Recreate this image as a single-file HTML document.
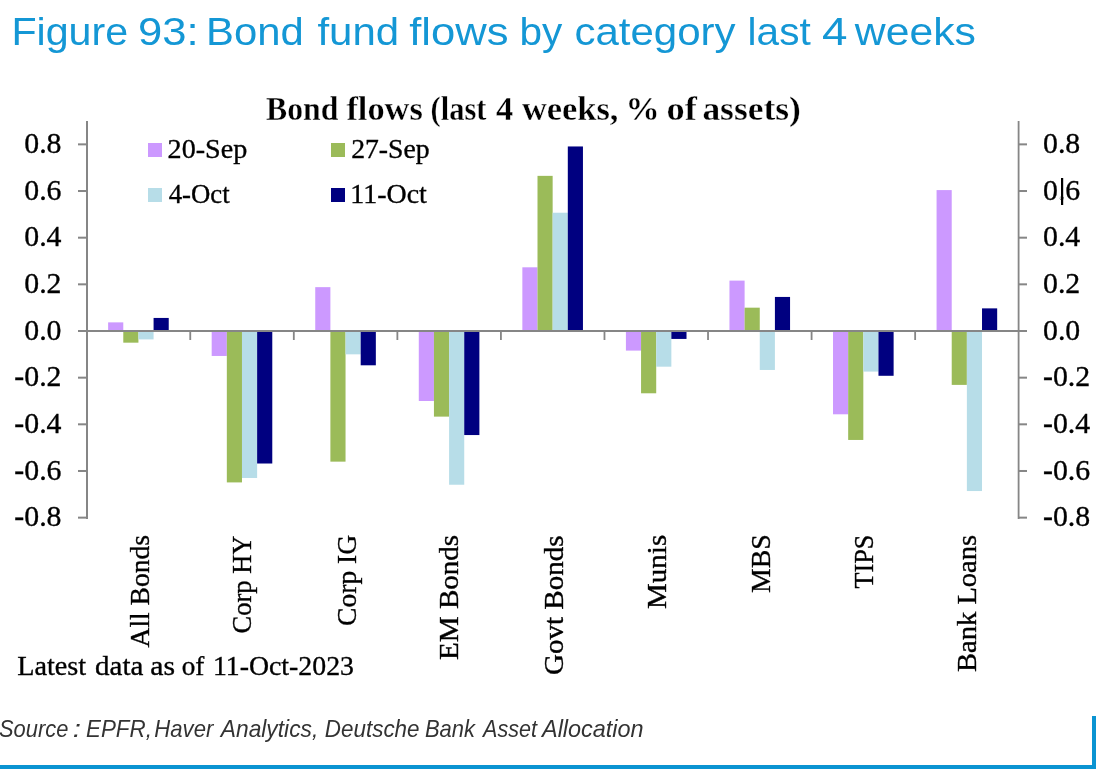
<!DOCTYPE html>
<html><head><meta charset="utf-8"><style>
html,body{margin:0;padding:0;background:#fff;}
body{width:1108px;height:770px;overflow:hidden;position:relative;}
svg{position:absolute;left:0;top:0;will-change:transform;}
text{font-family:"Liberation Serif",serif;fill:#000;}
.ax{font-size:29.8px;stroke:#000;stroke-width:0.35px;}
.leg{font-size:27px;stroke:#000;stroke-width:0.35px;}
.cat{font-size:28px;stroke:#000;stroke-width:0.35px;}
.fig{font-family:"Liberation Sans",sans-serif;font-size:39.5px;fill:#1497d5;stroke:#fff;stroke-width:0px;}
.ct{font-weight:bold;font-size:33px;stroke:#fff;stroke-width:0.3px;}
.note{font-size:28px;stroke:#000;stroke-width:0.35px;}
.src{font-family:"Liberation Sans",sans-serif;font-style:italic;font-size:24px;fill:#333;}
</style></head><body>
<svg width="1108" height="770" viewBox="0 0 1108 770">
<rect x="108.13" y="322.37" width="15.15" height="8.63" fill="#cc99ff"/>
<rect x="123.28" y="331.00" width="15.15" height="11.67" fill="#9bbb59"/>
<rect x="138.43" y="331.00" width="15.15" height="8.40" fill="#b7dde8"/>
<rect x="153.58" y="317.94" width="15.15" height="13.06" fill="#000080"/>
<rect x="211.68" y="331.00" width="15.15" height="24.96" fill="#cc99ff"/>
<rect x="226.83" y="331.00" width="15.15" height="151.41" fill="#9bbb59"/>
<rect x="241.98" y="331.00" width="15.15" height="146.98" fill="#b7dde8"/>
<rect x="257.13" y="331.00" width="15.15" height="132.51" fill="#000080"/>
<rect x="315.24" y="287.14" width="15.15" height="43.86" fill="#cc99ff"/>
<rect x="330.39" y="331.00" width="15.15" height="130.65" fill="#9bbb59"/>
<rect x="345.54" y="331.00" width="15.15" height="23.33" fill="#b7dde8"/>
<rect x="360.69" y="331.00" width="15.15" height="34.30" fill="#000080"/>
<rect x="418.79" y="331.00" width="15.15" height="69.99" fill="#cc99ff"/>
<rect x="433.94" y="331.00" width="15.15" height="85.62" fill="#9bbb59"/>
<rect x="449.09" y="331.00" width="15.15" height="153.74" fill="#b7dde8"/>
<rect x="464.24" y="331.00" width="15.15" height="104.05" fill="#000080"/>
<rect x="522.35" y="267.31" width="15.15" height="63.69" fill="#cc99ff"/>
<rect x="537.50" y="175.86" width="15.15" height="155.14" fill="#9bbb59"/>
<rect x="552.65" y="212.72" width="15.15" height="118.28" fill="#b7dde8"/>
<rect x="567.80" y="146.46" width="15.15" height="184.54" fill="#000080"/>
<rect x="625.91" y="331.00" width="15.15" height="19.60" fill="#cc99ff"/>
<rect x="641.06" y="331.00" width="15.15" height="62.29" fill="#9bbb59"/>
<rect x="656.21" y="331.00" width="15.15" height="35.69" fill="#b7dde8"/>
<rect x="671.36" y="331.00" width="15.15" height="7.93" fill="#000080"/>
<rect x="729.46" y="280.61" width="15.15" height="50.39" fill="#cc99ff"/>
<rect x="744.61" y="307.67" width="15.15" height="23.33" fill="#9bbb59"/>
<rect x="759.76" y="331.00" width="15.15" height="38.96" fill="#b7dde8"/>
<rect x="774.91" y="296.94" width="15.15" height="34.06" fill="#000080"/>
<rect x="833.02" y="331.00" width="15.15" height="83.29" fill="#cc99ff"/>
<rect x="848.17" y="331.00" width="15.15" height="108.95" fill="#9bbb59"/>
<rect x="863.32" y="331.00" width="15.15" height="40.59" fill="#b7dde8"/>
<rect x="878.47" y="331.00" width="15.15" height="44.79" fill="#000080"/>
<rect x="936.57" y="190.09" width="15.15" height="140.91" fill="#cc99ff"/>
<rect x="951.72" y="331.00" width="15.15" height="53.89" fill="#9bbb59"/>
<rect x="966.87" y="331.00" width="15.15" height="160.04" fill="#b7dde8"/>
<rect x="982.02" y="308.37" width="15.15" height="22.63" fill="#000080"/>
<rect x="86" y="121" width="2" height="398" fill="#868686"/>
<rect x="1017.7" y="121" width="1.8" height="398" fill="#868686"/>
<rect x="78" y="143.36" width="9" height="2" fill="#868686"/>
<rect x="1019" y="143.36" width="8" height="2" fill="#868686"/>
<text class="ax" x="61.5" y="152.96" text-anchor="end">0.8</text>
<text class="ax" x="1043" y="152.96">0.8</text>
<rect x="78" y="190.02" width="9" height="2" fill="#868686"/>
<rect x="1019" y="190.02" width="8" height="2" fill="#868686"/>
<text class="ax" x="61.5" y="199.62" text-anchor="end">0.6</text>
<text class="ax" x="1043" y="199.62">0<tspan fill="#fff">.</tspan>6</text>
<rect x="1061" y="178" width="2.2" height="27" fill="#000"/>
<rect x="78" y="236.68" width="9" height="2" fill="#868686"/>
<rect x="1019" y="236.68" width="8" height="2" fill="#868686"/>
<text class="ax" x="61.5" y="246.28" text-anchor="end">0.4</text>
<text class="ax" x="1043" y="246.28">0.4</text>
<rect x="78" y="283.34" width="9" height="2" fill="#868686"/>
<rect x="1019" y="283.34" width="8" height="2" fill="#868686"/>
<text class="ax" x="61.5" y="292.94" text-anchor="end">0.2</text>
<text class="ax" x="1043" y="292.94">0.2</text>
<rect x="78" y="330.00" width="9" height="2" fill="#868686"/>
<rect x="1019" y="330.00" width="8" height="2" fill="#868686"/>
<text class="ax" x="61.5" y="339.60" text-anchor="end">0.0</text>
<text class="ax" x="1043" y="339.60">0.0</text>
<rect x="78" y="376.66" width="9" height="2" fill="#868686"/>
<rect x="1019" y="376.66" width="8" height="2" fill="#868686"/>
<text class="ax" x="61.5" y="386.26" text-anchor="end">-0.2</text>
<text class="ax" x="1043" y="386.26">-0.2</text>
<rect x="78" y="423.32" width="9" height="2" fill="#868686"/>
<rect x="1019" y="423.32" width="8" height="2" fill="#868686"/>
<text class="ax" x="61.5" y="432.92" text-anchor="end">-0.4</text>
<text class="ax" x="1043" y="432.92">-0.4</text>
<rect x="78" y="469.98" width="9" height="2" fill="#868686"/>
<rect x="1019" y="469.98" width="8" height="2" fill="#868686"/>
<text class="ax" x="61.5" y="479.58" text-anchor="end">-0.6</text>
<text class="ax" x="1043" y="479.58">-0.6</text>
<rect x="78" y="516.64" width="9" height="2" fill="#868686"/>
<rect x="1019" y="516.64" width="8" height="2" fill="#868686"/>
<text class="ax" x="61.5" y="526.24" text-anchor="end">-0.8</text>
<text class="ax" x="1043" y="526.24">-0.8</text>
<rect x="78" y="330" width="949" height="2" fill="#868686"/>
<rect x="189.36" y="331" width="1.8" height="9" fill="#868686"/>
<rect x="292.91" y="331" width="1.8" height="9" fill="#868686"/>
<rect x="396.47" y="331" width="1.8" height="9" fill="#868686"/>
<rect x="500.02" y="331" width="1.8" height="9" fill="#868686"/>
<rect x="603.58" y="331" width="1.8" height="9" fill="#868686"/>
<rect x="707.13" y="331" width="1.8" height="9" fill="#868686"/>
<rect x="810.69" y="331" width="1.8" height="9" fill="#868686"/>
<rect x="914.24" y="331" width="1.8" height="9" fill="#868686"/>
<rect x="148" y="143" width="14" height="14" fill="#cc99ff"/>
<rect x="331" y="143" width="14" height="14" fill="#9bbb59"/>
<rect x="148" y="188" width="14" height="14" fill="#b7dde8"/>
<rect x="331" y="188" width="14" height="14" fill="#000080"/>
<text id="fig0" class="fig" x="11.40" y="44.60" textLength="116.74" lengthAdjust="spacingAndGlyphs">Figure</text>
<text id="fig1" class="fig" x="138.00" y="44.60" textLength="60.59" lengthAdjust="spacingAndGlyphs">93:</text>
<text id="fig2" class="fig" x="206.00" y="44.60" textLength="97.68" lengthAdjust="spacingAndGlyphs">Bond</text>
<text id="fig3" class="fig" x="317.40" y="44.60" textLength="81.68" lengthAdjust="spacingAndGlyphs">fund</text>
<text id="fig4" class="fig" x="409.20" y="44.60" textLength="99.33" lengthAdjust="spacingAndGlyphs">flows</text>
<text id="fig5" class="fig" x="519.40" y="44.60" textLength="42.87" lengthAdjust="spacingAndGlyphs">by</text>
<text id="fig6" class="fig" x="574.40" y="44.60" textLength="161.25" lengthAdjust="spacingAndGlyphs">category</text>
<text id="fig7" class="fig" x="747.60" y="44.60" textLength="63.11" lengthAdjust="spacingAndGlyphs">last</text>
<text id="fig8" class="fig" x="822.00" y="44.60" textLength="25.46" lengthAdjust="spacingAndGlyphs">4</text>
<text id="fig9" class="fig" x="854.80" y="44.60" textLength="121.12" lengthAdjust="spacingAndGlyphs">weeks</text>
<text id="ct0" class="ct" x="266.10" y="120.20" textLength="72.21" lengthAdjust="spacingAndGlyphs">Bond</text>
<text id="ct1" class="ct" x="346.40" y="120.20" textLength="76.42" lengthAdjust="spacingAndGlyphs">flows</text>
<text id="ct2" class="ct" x="430.60" y="120.20" textLength="55.78" lengthAdjust="spacingAndGlyphs">(last</text>
<text id="ct3" class="ct" x="496.10" y="120.20" textLength="17.15" lengthAdjust="spacingAndGlyphs">4</text>
<text id="ct4" class="ct" x="522.00" y="120.20" textLength="96.46" lengthAdjust="spacingAndGlyphs">weeks,</text>
<text id="ct5" class="ct" x="625.40" y="120.20" textLength="34.14" lengthAdjust="spacingAndGlyphs">%</text>
<text id="ct6" class="ct" x="666.60" y="120.20" textLength="30.24" lengthAdjust="spacingAndGlyphs">of</text>
<text id="ct7" class="ct" x="702.40" y="120.20" textLength="98.45" lengthAdjust="spacingAndGlyphs">assets)</text>
<text id="note0" class="note" x="17.30" y="675.00" textLength="68.87" lengthAdjust="spacingAndGlyphs">Latest</text>
<text id="note1" class="note" x="95.10" y="675.00" textLength="48.18" lengthAdjust="spacingAndGlyphs">data</text>
<text id="note2" class="note" x="150.20" y="675.00" textLength="24.76" lengthAdjust="spacingAndGlyphs">as</text>
<text id="note3" class="note" x="181.70" y="675.00" textLength="22.62" lengthAdjust="spacingAndGlyphs">of</text>
<text id="note4" class="note" x="212.90" y="675.00" textLength="141.06" lengthAdjust="spacingAndGlyphs">11-Oct-2023</text>
<text id="src0" class="src" x="-1.00" y="736.80" textLength="69.32" lengthAdjust="spacingAndGlyphs">Source</text>
<text id="src1" class="src" x="72.80" y="736.80" textLength="8.24" lengthAdjust="spacingAndGlyphs">:</text>
<text id="src2" class="src" x="86.00" y="736.80" textLength="65.85" lengthAdjust="spacingAndGlyphs">EPFR,</text>
<text id="src3" class="src" x="154.30" y="736.80" textLength="59.03" lengthAdjust="spacingAndGlyphs">Haver</text>
<text id="src4" class="src" x="220.80" y="736.80" textLength="97.44" lengthAdjust="spacingAndGlyphs">Analytics,</text>
<text id="src5" class="src" x="324.80" y="736.80" textLength="94.74" lengthAdjust="spacingAndGlyphs">Deutsche</text>
<text id="src6" class="src" x="424.90" y="736.80" textLength="49.99" lengthAdjust="spacingAndGlyphs">Bank</text>
<text id="src7" class="src" x="483.10" y="736.80" textLength="53.89" lengthAdjust="spacingAndGlyphs">Asset</text>
<text id="src8" class="src" x="542.00" y="736.80" textLength="101.66" lengthAdjust="spacingAndGlyphs">Allocation</text>
<text id="leg0" class="leg" x="167.60" y="157.80" textLength="79.64" lengthAdjust="spacingAndGlyphs">20-Sep</text>
<text id="leg1" class="leg" x="351.20" y="157.80" textLength="78.41" lengthAdjust="spacingAndGlyphs">27-Sep</text>
<text id="leg2" class="leg" x="168.70" y="203.00" textLength="60.92" lengthAdjust="spacingAndGlyphs">4-Oct</text>
<text id="leg3" class="leg" x="350.30" y="203.00" textLength="76.56" lengthAdjust="spacingAndGlyphs">11-Oct</text>
<text id="cat0" class="cat" transform="translate(148.50,647.50) rotate(-90)" textLength="112.58" lengthAdjust="spacingAndGlyphs">All Bonds</text>
<text id="cat1" class="cat" transform="translate(251.30,633.40) rotate(-90)" textLength="97.81" lengthAdjust="spacingAndGlyphs">Corp HY</text>
<text id="cat2" class="cat" transform="translate(355.50,625.90) rotate(-90)" textLength="90.95" lengthAdjust="spacingAndGlyphs">Corp IG</text>
<text id="cat3" class="cat" transform="translate(458.20,659.90) rotate(-90)" textLength="125.08" lengthAdjust="spacingAndGlyphs">EM Bonds</text>
<text id="cat4" class="cat" transform="translate(562.60,675.10) rotate(-90)" textLength="139.66" lengthAdjust="spacingAndGlyphs">Govt Bonds</text>
<text id="cat5" class="cat" transform="translate(665.80,608.90) rotate(-90)" textLength="74.10" lengthAdjust="spacingAndGlyphs">Munis</text>
<text id="cat6" class="cat" transform="translate(769.70,592.90) rotate(-90)" textLength="58.61" lengthAdjust="spacingAndGlyphs">MBS</text>
<text id="cat7" class="cat" transform="translate(873.40,588.50) rotate(-90)" textLength="53.70" lengthAdjust="spacingAndGlyphs">TIPS</text>
<text id="cat8" class="cat" transform="translate(976.10,671.90) rotate(-90)" textLength="136.99" lengthAdjust="spacingAndGlyphs">Bank Loans</text>
<rect x="1092" y="716" width="4" height="53" fill="#0a94d2"/>
<rect x="0" y="765" width="1096" height="4" fill="#0a94d2"/>
</svg>
</body></html>
